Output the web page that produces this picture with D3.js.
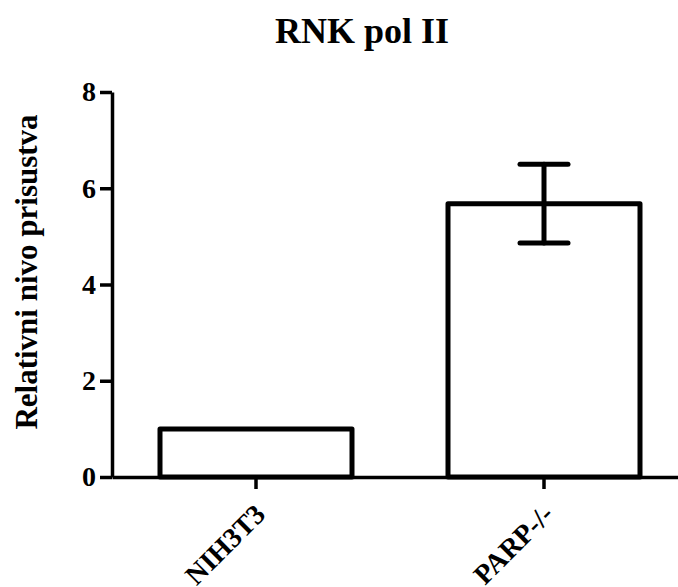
<!DOCTYPE html>
<html>
<head>
<meta charset="utf-8">
<script src="https://cdn.jsdelivr.net/npm/d3@7"></script>
<style>
  html, body { margin: 0; padding: 0; background: #fff; }
  svg { display: block; }
  text { font-family: "Liberation Serif", "Times New Roman", serif; font-weight: bold; fill: #000; }
</style>
</head>
<body>
<svg id="chart" width="678" height="587"></svg>
<script>
const categories = ["NIH3T3", "PARP-/-"];
const values = [1.0, 5.68];
const errors = [0, 0.82];
const yTicks = [0, 2, 4, 6, 8];
const title = "RNK pol II";
const yLabel = "Relativni nivo prisustva";

const svg = d3.select("#chart");
const x = d3.scaleBand().domain(categories).range([112, 688]).paddingInner(1/3).paddingOuter(1/6);
const y = d3.scaleLinear().domain([0, 8]).range([477, 92]);

// title
svg.append("text").attr("x", 362).attr("y", 43).attr("text-anchor", "middle")
  .style("font-size", "36px").text(title);

// y label
svg.append("text").attr("transform", "translate(37,272) rotate(-90)").attr("text-anchor", "middle")
  .style("font-size", "31px").text(yLabel);

// bars
const data = categories.map((c, i) => ({ c, v: values[i], e: errors[i] }));
svg.append("g").selectAll("rect").data(data).join("rect")
  .attr("x", d => x(d.c)).attr("width", x.bandwidth())
  .attr("y", d => y(d.v)).attr("height", d => y(0) - y(d.v))
  .attr("fill", "#fff").attr("stroke", "#000").attr("stroke-width", 5)
  .attr("stroke-linejoin", "round");

// error bars
const eg = svg.append("g").attr("stroke", "#000").attr("stroke-width", 5).attr("stroke-linecap", "round");
data.filter(d => d.e > 0).forEach(d => {
  const cx = x(d.c) + x.bandwidth() / 2;
  eg.append("line").attr("x1", cx).attr("x2", cx).attr("y1", y(d.v + d.e)).attr("y2", y(d.v - d.e));
  eg.append("line").attr("x1", cx - 24).attr("x2", cx + 24).attr("y1", y(d.v + d.e)).attr("y2", y(d.v + d.e));
  eg.append("line").attr("x1", cx - 24).attr("x2", cx + 24).attr("y1", y(d.v - d.e)).attr("y2", y(d.v - d.e));
});

// y axis
const ya = svg.append("g").attr("transform", "translate(112,0)")
  .call(d3.axisLeft(y).tickValues(yTicks).tickFormat(d3.format("d")).tickSize(12).tickSizeOuter(0).tickPadding(4));
ya.select(".domain").attr("stroke-width", 3.5);
ya.selectAll(".tick line").attr("stroke-width", 3.5);
ya.selectAll(".tick text").style("font-size", "28px").style("font-family", "'Liberation Serif', 'Times New Roman', serif").style("font-weight", "bold");

// x axis
const xa = svg.append("g").attr("transform", "translate(0,477)")
  .call(d3.axisBottom(x).tickSize(12).tickSizeOuter(0));
xa.select(".domain").attr("stroke-width", 3.5);
xa.selectAll(".tick line").attr("stroke-width", 3.5);
xa.selectAll(".tick text")
  .style("font-size", "28px").style("font-family", "'Liberation Serif', 'Times New Roman', serif").style("font-weight", "bold")
  .attr("text-anchor", "end").attr("dy", null).attr("y", null)
  .attr("transform", "translate(11,39) rotate(-45)");
</script>
</body>
</html>
